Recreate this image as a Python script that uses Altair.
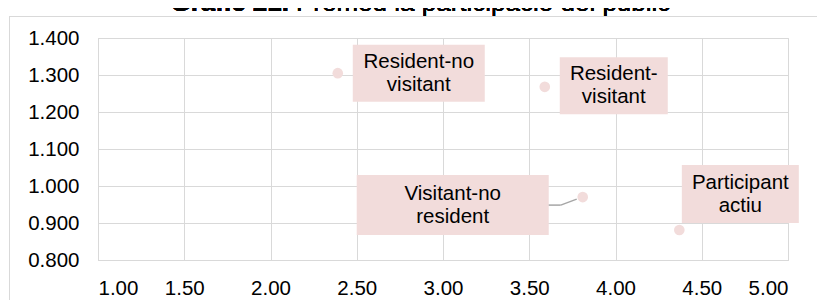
import altair as alt
import pandas as pd

# ---- data ----
labels = ["Resident-no visitant", "Resident-visitant", "Visitant-no resident", "Participant actiu"]
label_lines = [["Resident-no", "visitant"], ["Resident-", "visitant"],
               ["Visitant-no", "resident"], ["Participant", "actiu"]]
x_vals = [2.39, 3.59, 3.81, 4.37]
y_vals = [1.305, 1.268, 0.970, 0.881]
x_ticks = [1.0, 1.5, 2.0, 2.5, 3.0, 3.5, 4.0, 4.5, 5.0]
y_ticks = [0.8, 0.9, 1.0, 1.1, 1.2, 1.3, 1.4]
title_bold = "Grafic 21."
title_rest = "Premed la participacio del public"

# ---- styling (pixel offsets of the label boxes from their points) ----
box_dx = [81, 69, -130, 61]
box_dy = [0, -1, 8, -36]
box_w = [132, 108, 192, 117]
box_h = [57, 57, 60, 58]

PINK = "#F2DCDB"
GRID = "#D9D9D9"
FONT = "Liberation Sans"
FS = 20.5
TFS = 26
LH = 23

df = pd.DataFrame({"label": labels, "x": x_vals, "y": y_vals})

xs = alt.Scale(domain=[1, 5], nice=False, zero=False)
ys = alt.Scale(domain=[0.8, 1.4], nice=False, zero=False)

X = alt.X("x:Q", scale=xs, title=None,
          axis=alt.Axis(values=x_ticks, format=".2f", grid=True, gridColor=GRID,
                        domainColor=GRID, ticks=False, labelPadding=18,
                        labelOverlap=False, labelFontSize=FS, labelFont=FONT,
                        labelColor="#000000"))
Y = alt.Y("y:Q", scale=ys, title=None,
          axis=alt.Axis(values=y_ticks, format=".3f", grid=True, gridColor=GRID,
                        domainColor=GRID, ticks=False, labelPadding=19,
                        labelOverlap=False, labelFontSize=FS, labelFont=FONT,
                        labelColor="#000000"))

base = alt.Chart(df)

layers = []
for i, lab in enumerate(labels):
    sub = base.transform_filter(alt.datum.label == lab)
    box = sub.mark_rect(color=PINK, width=box_w[i], height=box_h[i],
                        xOffset=box_dx[i], yOffset=box_dy[i]).encode(x=X, y=Y)
    txt = sub.mark_text(font=FONT, fontSize=FS, color="#000000", align="center",
                        baseline="middle", lineHeight=LH,
                        dx=box_dx[i], dy=box_dy[i] - LH / 2).encode(
        x=X, y=Y, text=alt.value(label_lines[i]))
    layers += [box, txt]

# leader line for "Visitant-no resident"
lead = base.transform_filter(alt.datum.label == "Visitant-no resident")
lead1 = lead.mark_rule(color="#A6A6A6", strokeWidth=1.5, xOffset=-34, yOffset=8,
                       x2Offset=-22, y2Offset=8).encode(x=X, y=Y, x2="x:Q", y2="y:Q")
lead2 = lead.mark_rule(color="#A6A6A6", strokeWidth=1.5, xOffset=-22, yOffset=8,
                       x2Offset=-6, y2Offset=2).encode(x=X, y=Y, x2="x:Q", y2="y:Q")
layers += [lead1, lead2]

points = base.mark_circle(size=113, opacity=1, color=PINK).encode(x=X, y=Y)
layers.append(points)

# outer chart-area border (top and left edges)
border_top = alt.Chart(df).mark_rule(color=GRID, strokeWidth=1).encode(
    x=alt.value(-89), x2=alt.value(730), y=alt.value(-21.5), y2=alt.value(-21.5))
border_left = alt.Chart(df).mark_rule(color=GRID, strokeWidth=1).encode(
    x=alt.value(-88.5), x2=alt.value(-88.5), y=alt.value(-22), y2=alt.value(270))

# title (cut off at the top, as in the reference)
t1 = alt.Chart(df).mark_text(font=FONT, fontSize=TFS, fontWeight="bold", align="right",
                             baseline="alphabetic", color="#000000").encode(
    x=alt.value(191), y=alt.value(-27), text=alt.value(title_bold))
t2 = alt.Chart(df).mark_text(font=FONT, fontSize=TFS, align="left",
                             baseline="alphabetic", color="#000000").encode(
    x=alt.value(198), y=alt.value(-27), text=alt.value(title_rest))

chart = alt.layer(*layers, border_top, border_left, t1, t2).properties(
    width=690, height=222,
    padding={"left": 90, "top": 30, "right": 29, "bottom": 40},
    autosize=alt.AutoSizeParams(type="none"),
).configure_view(stroke=GRID).configure(background="white")

chart.save("out.html", embed_options={"renderer": "svg", "actions": False})
